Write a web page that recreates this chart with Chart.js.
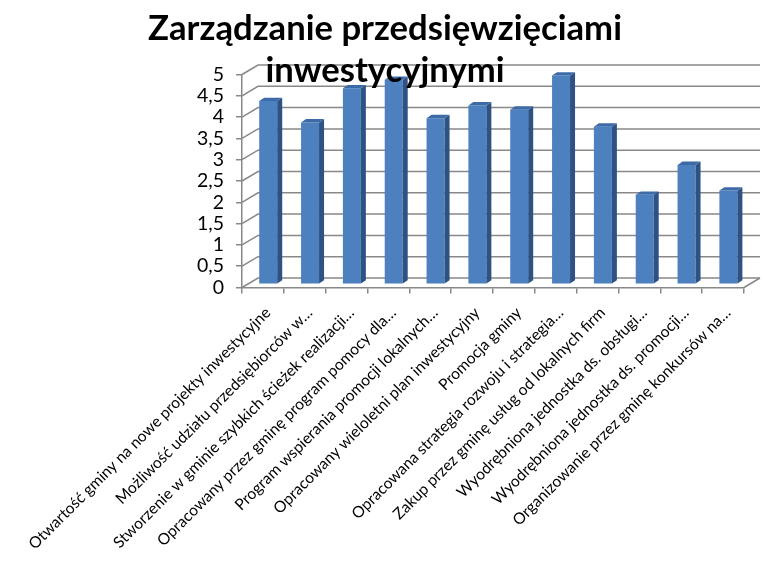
<!DOCTYPE html>
<html><head><meta charset="utf-8">
<script src="https://cdn.jsdelivr.net/npm/chart.js@4.4.1/dist/chart.umd.min.js"></script>
<style>html,body{margin:0;padding:0;background:#fff;}</style>
</head><body>
<canvas id="c" width="763" height="576"></canvas>
<script>
const titleLines = ['Zarządzanie przedsięwzięciami', 'inwestycyjnymi'];
const categories = [
  'Otwartość gminy na nowe projekty inwestycyjne',
  'Możliwość udziału przedsiębiorców w…',
  'Stworzenie w gminie szybkich ścieżek realizacji…',
  'Opracowany przez gminę program pomocy dla…',
  'Program wspierania promocji lokalnych…',
  'Opracowany wieloletni plan inwestycyjny',
  'Promocja gminy',
  'Opracowana strategia rozwoju i strategia…',
  'Zakup przez gminę usług od lokalnych firm',
  'Wyodrębniona jednostka ds. obsługi…',
  'Wyodrębniona jednostka ds. promocji…',
  'Organizowanie przez gminę konkursów na…'
];
const values = [4.3, 3.8, 4.6, 4.8, 3.9, 4.2, 4.1, 4.9, 3.7, 2.1, 2.8, 2.2];
const yTicks = [0, 0.5, 1, 1.5, 2, 2.5, 3, 3.5, 4, 4.5, 5];
const yTickLabels = ['0', '0,5', '1', '1,5', '2', '2,5', '3', '3,5', '4', '4,5', '5'];

const FONT = 'Lato';
const GRID = '#888888';
const FRONT = '#4C80BE', SIDE = '#2E5283', TOP = '#3D6BA8';
const DX = 16, DY = 9.5;          // wall depth
const SX = 5.3, SY = 3.2;         // bar placement depth
const BX = 5, BY = 3.4;           // bar depth

const mctx = document.createElement('canvas').getContext('2d');
function fitSize(text, weight, target) {
  mctx.font = weight + ' 100px ' + FONT;
  return 100 * target / mctx.measureText(text).width;
}
const titleSize = fitSize(titleLines[0], 'bold', 474);
const labelSize = fitSize(categories[0], 'normal', 335);
const yLabelSize = fitSize('4,5', 'normal', 27);

const threeD = {
  id: 'threeD',
  beforeLayout(chart) {
    const tb = chart.titleBlock;
    if (tb) tb._layers = () => [{ z: 10, draw: (ca) => tb.draw(ca) }];
  },
  beforeDatasetsDraw(chart) {
    const { ctx, chartArea, scales } = chart;
    const { left, right, bottom } = chartArea;
    const y = scales.y;
    ctx.save();
    ctx.strokeStyle = GRID;
    ctx.lineWidth = 1.5;
    y.ticks.forEach(t => {
      const py = y.getPixelForValue(t.value);
      ctx.beginPath();
      ctx.moveTo(left, py);
      ctx.lineTo(left + DX, py - DY);
      ctx.lineTo(right + DX, py - DY);
      ctx.stroke();
    });
    ctx.beginPath();
    ctx.moveTo(right, bottom);
    ctx.lineTo(right + DX, bottom - DY);
    ctx.stroke();
    ctx.restore();
    ctx.save();
    ctx.translate(SX, -SY);
  },
  afterDatasetsDraw(chart) {
    const { ctx } = chart;
    const meta = chart.getDatasetMeta(0);
    meta.data.forEach(bar => {
      const p = bar.getProps(['x', 'y', 'base', 'width'], true);
      const l = p.x - p.width / 2, r = p.x + p.width / 2;
      ctx.fillStyle = SIDE;
      ctx.beginPath();
      ctx.moveTo(r, p.y); ctx.lineTo(r + BX, p.y - BY);
      ctx.lineTo(r + BX, p.base - BY); ctx.lineTo(r, p.base);
      ctx.closePath(); ctx.fill();
      ctx.fillStyle = TOP;
      ctx.beginPath();
      ctx.moveTo(l, p.y); ctx.lineTo(l + BX, p.y - BY);
      ctx.lineTo(r + BX, p.y - BY); ctx.lineTo(r, p.y);
      ctx.closePath(); ctx.fill();
    });
    ctx.restore();
  }
};

new Chart(document.getElementById('c'), {
  type: 'bar',
  data: {
    labels: categories,
    datasets: [{ data: values, backgroundColor: FRONT, borderWidth: 0,
      barPercentage: 0.43, categoryPercentage: 1 }]
  },
  options: {
    responsive: false,
    animation: false,
    layout: { autoPadding: false, padding: { left: 26, right: 19, top: 0, bottom: 0 } },
    plugins: {
      legend: { display: false },
      tooltip: { enabled: false },
      title: {
        display: true,
        text: titleLines,
        color: '#000',
        font: { family: FONT, weight: 'bold', size: titleSize, lineHeight: 42 / titleSize },
        padding: { top: 8, bottom: -17.5 }
      }
    },
    scales: {
      x: {
        offset: true,
        grid: { display: true, drawOnChartArea: false, drawTicks: true, tickLength: 6, color: GRID, lineWidth: 1.5 },
        border: { display: true, color: GRID, width: 1.5 },
        ticks: { autoSkip: false, maxRotation: 45, minRotation: 45, color: '#000', padding: 10, labelOffset: 5,
          font: { family: FONT, size: labelSize } },
        afterFit(s) { s.height = 576 - 287.5; }
      },
      y: {
        min: 0, max: 5,
        afterBuildTicks(s) { s.ticks = yTicks.map(v => ({ value: v })); },
        grid: { display: true, drawOnChartArea: false, drawTicks: true, tickLength: 6, color: GRID, lineWidth: 1.5 },
        border: { display: true, color: GRID, width: 1.5 },
        ticks: { autoSkip: false, color: '#000', padding: 12, font: { family: FONT, size: yLabelSize },
          callback: (v) => yTickLabels[yTicks.indexOf(v)] },
        afterFit(s) { s.width = 216; }
      }
    }
  },
  plugins: [threeD]
});
</script>
</body></html>
